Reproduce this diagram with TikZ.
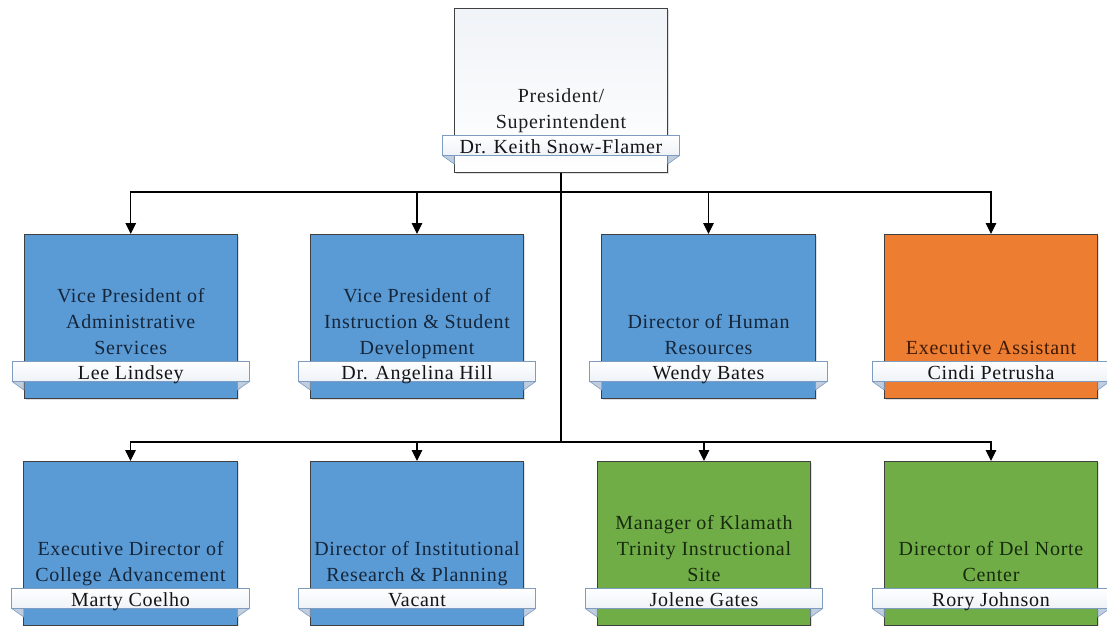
\documentclass[tikz,border=0pt]{standalone}
\usepackage{fontspec}
\setmainfont{Liberation Serif}[LetterSpace=3.5]
\usetikzlibrary{arrows.meta,calc,shadows}

\definecolor{unitblue}{HTML}{5B9BD5}
\definecolor{unitorange}{HTML}{ED7D31}
\definecolor{unitgreen}{HTML}{70AD47}
\definecolor{topshade}{HTML}{F0F3F7}
\definecolor{ribbonedge}{HTML}{7E9CC0}
\definecolor{ribbonlow}{HTML}{EEF2F7}
\definecolor{foldfill}{HTML}{BFCDDE}
\definecolor{bluetext}{HTML}{15263B}
\definecolor{orangetext}{HTML}{401A04}
\definecolor{greentext}{HTML}{172A0E}
\definecolor{toptext}{HTML}{1E1E1E}

\newcommand\titlefont{\fontsize{20}{26}\selectfont}

\tikzset{
  unit/.style={draw=black!75, line width=0.9pt, minimum width=213.5pt,
    minimum height=164pt, inner sep=0pt, anchor=north,
    drop shadow={shadow xshift=1.5pt, shadow yshift=-2pt, opacity=0.25, fill=black!50}},
  bluefill/.style={fill=unitblue},
  orangefill/.style={fill=unitorange},
  greenfill/.style={fill=unitgreen},
  whitefill/.style={top color=topshade, bottom color=white},
  title/.style={anchor=south, inner sep=0pt, align=center, font=\titlefont},
  ribbon/.style={draw=ribbonedge, line width=0.8pt, top color=white,
    bottom color=ribbonlow, minimum width=237.5pt, minimum height=20pt,
    inner sep=0pt, text height=15.5pt, text depth=0.5pt, font=\titlefont,
    text=black!92},
  fold/.style={fill=foldfill, draw=ribbonedge, line width=0.6pt, line join=round},
  link/.style={line width=1.2pt, draw=black},
  arrowlink/.style={link, -{Triangle[length=11pt,width=10.5pt]}},
}

% #1 name, #2 centre x, #3 top y, #4 fill style, #5 title colour, #6 title, #7 person
\newcommand\orgunit[7]{%
  \node[unit, #4] (#1) at (#2,#3) {};
  \node[title, text=#5] (#1t) at (#2,{#3+128.8}) {#6\strut};
  \path[fold] ({#2-118.75},{#3+147.5}) -- ({#2-106.75},{#3+147.5})
    -- ({#2-106.75},{#3+156}) -- cycle;
  \path[fold] ({#2+118.75},{#3+147.5}) -- ({#2+106.75},{#3+147.5})
    -- ({#2+106.75},{#3+156}) -- cycle;
  \node[ribbon] (#1n) at (#2,{#3+137.5}) {#7};
}

\begin{document}
\begin{tikzpicture}[x=1pt, y=-1pt]
  \useasboundingbox[fill=white] (0,0) rectangle (1107,625);

  % president
  \orgunit{pres}{561}{8}{whitefill}{toptext}{President/\\Superintendent}{Dr. Keith Snow-Flamer}

  % first row
  \orgunit{vpas}{130.75}{234}{bluefill}{bluetext}{Vice President of\\Administrative\\Services}{Lee Lindsey}
  \orgunit{vpisd}{417}{234}{bluefill}{bluetext}{Vice President of\\Instruction \& Student\\Development}{Dr. Angelina Hill}
  \orgunit{dhr}{708.5}{234}{bluefill}{bluetext}{Director of Human\\Resources}{Wendy Bates}
  \orgunit{ea}{991}{234}{orangefill}{orangetext}{Executive Assistant}{Cindi Petrusha}

  % second row
  \orgunit{edca}{130.5}{461}{bluefill}{bluetext}{Executive Director of\\College Advancement}{Marty Coelho}
  \orgunit{dirp}{417}{461}{bluefill}{bluetext}{Director of Institutional\\Research \& Planning}{Vacant}
  \orgunit{mkt}{704}{461}{greenfill}{greentext}{Manager of Klamath\\Trinity Instructional\\Site}{Jolene Gates}
  \orgunit{ddn}{991}{461}{greenfill}{greentext}{Director of Del Norte\\Center}{Rory Johnson}

  % reporting lines
  \coordinate (busA) at (561,192);
  \coordinate (busB) at (561,442);
  \draw[link] (pres.south) -- (busB);
  \foreach \u in {vpas,vpisd,dhr,ea}
    \draw[arrowlink] (busA) -| (\u);
  \foreach \u in {edca,dirp,mkt,ddn}
    \draw[arrowlink] (busB) -| (\u);
\end{tikzpicture}
\end{document}
